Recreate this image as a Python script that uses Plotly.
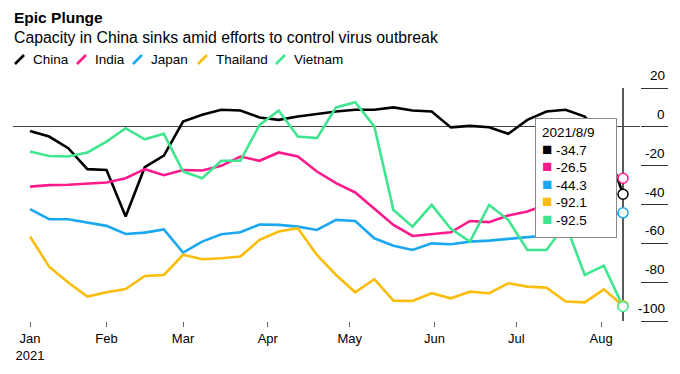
import plotly.graph_objects as go

# ---------------- data ----------------
dates = [
    "2021-01-04", "2021-01-11", "2021-01-18", "2021-01-25",
    "2021-02-01", "2021-02-08", "2021-02-15", "2021-02-22",
    "2021-03-01", "2021-03-08", "2021-03-15", "2021-03-22", "2021-03-29",
    "2021-04-05", "2021-04-12", "2021-04-19", "2021-04-26",
    "2021-05-03", "2021-05-10", "2021-05-17", "2021-05-24", "2021-05-31",
    "2021-06-07", "2021-06-14", "2021-06-21", "2021-06-28",
    "2021-07-05", "2021-07-12", "2021-07-19", "2021-07-26",
    "2021-08-02", "2021-08-09",
]

china = [-2.1, -5.0, -11.0, -21.8, -22.2, -46.2, -20.8, -14.8, 2.7, 6.2, 8.8, 8.4, 4.8,
         3.6, 5.3, 6.7, 7.9, 8.8, 8.8, 10.0, 8.4, 7.9, -0.3, 0.5, -0.2, -3.6,
         3.6, 7.9, 8.8, 5.3, -6.0, -34.7]
india = [-30.8, -30.0, -29.8, -29.2, -28.7, -26.5, -21.8, -24.9, -22.2, -22.5, -20.1, -15.3, -17.5,
         -13.2, -15.3, -23.0, -29.0, -33.8, -41.9, -50.5, -56.2, -55.3, -54.3, -48.5, -49.1, -45.7,
         -43.6, -40.0, -36.0, -31.0, -24.0, -26.5]
japan = [-42.4, -47.6, -47.6, -49.3, -51.0, -55.2, -54.5, -52.8, -64.8, -59.1, -55.3, -54.3, -50.3,
         -50.5, -51.4, -53.1, -47.9, -48.5, -57.4, -61.2, -63.4, -60.0, -60.5, -59.1, -58.6, -57.7,
         -57.0, -56.0, -54.0, -50.0, -46.0, -44.3]
thailand = [-56.5, -72.0, -80.2, -87.4, -85.2, -83.5, -76.8, -76.3, -65.9, -68.2, -67.7, -66.8, -58.2,
            -53.9, -52.2, -66.0, -76.3, -85.2, -78.5, -89.5, -89.7, -85.7, -88.3, -84.9, -85.7, -80.6,
            -82.3, -82.8, -90.0, -90.4, -83.7, -92.1]
vietnam = [-12.7, -15.0, -15.3, -13.2, -7.6, -0.7, -6.4, -3.6, -23.0, -26.5, -17.5, -17.5, 1.0,
           8.4, -5.0, -5.8, 10.0, 12.7, 0.2, -42.8, -51.4, -40.2, -52.5, -59.1, -40.2, -47.9,
           -63.4, -63.4, -50.0, -76.3, -71.5, -92.5]

series_names = ["China", "India", "Japan", "Thailand", "Vietnam"]
series_values = [china, india, japan, thailand, vietnam]
series_colors = ["#000000", "#ff1a8c", "#1ba7f2", "#fbbd0c", "#3fe68f"]

x_tickvals = ["2021-01-04", "2021-02-01", "2021-03-01", "2021-04-01",
              "2021-05-01", "2021-06-01", "2021-07-01", "2021-08-01"]
x_ticktext = ["Jan<br>2021", "Feb", "Mar", "Apr", "May", "Jun", "Jul", "Aug"]
y_tickvals = [20, 0, -20, -40, -60, -80, -100]

tooltip_date = "2021/8/9"

title_text = "Epic Plunge"
subtitle_text = "Capacity in China sinks amid efforts to control virus outbreak"

# ---------------- layout helpers ----------------
W, H = 680, 374
ML, MR, MT, MB = 13, 40, 88, 53
PW = W - ML - MR
PH = H - MT - MB


def px(x):
    return (x - ML) / PW


def py(y):
    return (H - MB - y) / PH


FONT = "Liberation Sans, Arial, Helvetica, sans-serif"

fig = go.Figure()

for name, vals, col in zip(series_names, series_values, series_colors):
    fig.add_trace(go.Scatter(x=dates, y=vals, mode="lines", name=name,
                             line=dict(color=col, width=2.6), showlegend=False,
                             hoverinfo="skip"))

for name, vals, col in zip(series_names, series_values, series_colors):
    fig.add_trace(go.Scatter(x=[dates[-1]], y=[vals[-1]], mode="markers", name=name,
                             marker=dict(size=10, color="white", line=dict(color=col, width=1.5)),
                             showlegend=False, hoverinfo="skip"))

annotations = []
shapes = []

# vertical hover spike at the last date
shapes.append(dict(type="line", xref="x", yref="paper", x0=dates[-1], x1=dates[-1],
                   y0=0, y1=1, line=dict(color="#222222", width=1.5), layer="below"))

# title & subtitle
annotations.append(dict(text="<b>" + title_text + "</b>", xref="paper", yref="paper",
                        x=px(12), y=py(18), xanchor="left", yanchor="middle", showarrow=False,
                        font=dict(size=15.5, color="#000", family=FONT)))
annotations.append(dict(text=subtitle_text, xref="paper", yref="paper",
                        x=px(12), y=py(37), xanchor="left", yanchor="middle", showarrow=False,
                        font=dict(size=15.8, color="#000", family=FONT)))

# custom legend with slash glyphs
legend_slash_x = [15, 77, 133, 198, 276]
for name, col, sx in zip(series_names, series_colors, legend_slash_x):
    shapes.append(dict(type="line", xref="paper", yref="paper",
                       x0=px(sx), y0=py(64), x1=px(sx + 9), y1=py(55),
                       line=dict(color=col, width=2.6), layer="above"))
    annotations.append(dict(text=name, xref="paper", yref="paper",
                            x=px(sx + 16), y=py(59.5), xanchor="left", yanchor="middle",
                            showarrow=False, font=dict(size=13.5, color="#000", family=FONT)))

# y tick labels (above their tick lines, right aligned)
for v in y_tickvals:
    annotations.append(dict(text=str(v), xref="paper", yref="y", x=px(667), y=v,
                            xanchor="right", yanchor="middle", yshift=12.5, showarrow=False,
                            font=dict(size=13.5, color="#000", family=FONT)))

# tooltip box
rows = [tooltip_date]
for vals, col in zip(series_values, series_colors):
    rows.append("<span style='color:%s;font-size:17px'>■</span> %.1f" % (col, vals[-1]))
annotations.append(dict(text="<br>".join(rows), xref="paper", yref="paper",
                        x=px(535), y=py(118), xanchor="left", yanchor="top",
                        align="left", valign="top", showarrow=False,
                        width=68, height=106, borderpad=6,
                        bgcolor="white", bordercolor="#8a8a8a", borderwidth=1,
                        font=dict(size=13.5, color="#000", family=FONT)))

fig.update_layout(
    width=W, height=H,
    margin=dict(l=ML, r=MR, t=MT, b=MB),
    plot_bgcolor="white", paper_bgcolor="white",
    font=dict(family=FONT, color="#000"),
    showlegend=False,
    annotations=annotations,
    shapes=shapes,
    xaxis=dict(
        type="date",
        range=["2020-12-28 18:43", "2021-08-15 05:17"],
        tickvals=x_tickvals, ticktext=x_ticktext,
        ticks="outside", ticklen=5, tickwidth=1, tickcolor="#666",
        tickfont=dict(size=13, color="#000", family=FONT),
        showgrid=False, zeroline=False, showline=False,
    ),
    yaxis=dict(
        range=[-100, 20], side="right",
        tickvals=y_tickvals, showticklabels=False,
        ticks="outside", ticklen=27, tickwidth=1, tickcolor="#333",
        showgrid=False, zeroline=True, zerolinecolor="#444", zerolinewidth=1,
        showline=False,
    ),
)

fig.write_html("out.html",
               config={"displayModeBar": False},
               post_script="document.body.style.margin='0px';document.body.style.padding='0px';")
